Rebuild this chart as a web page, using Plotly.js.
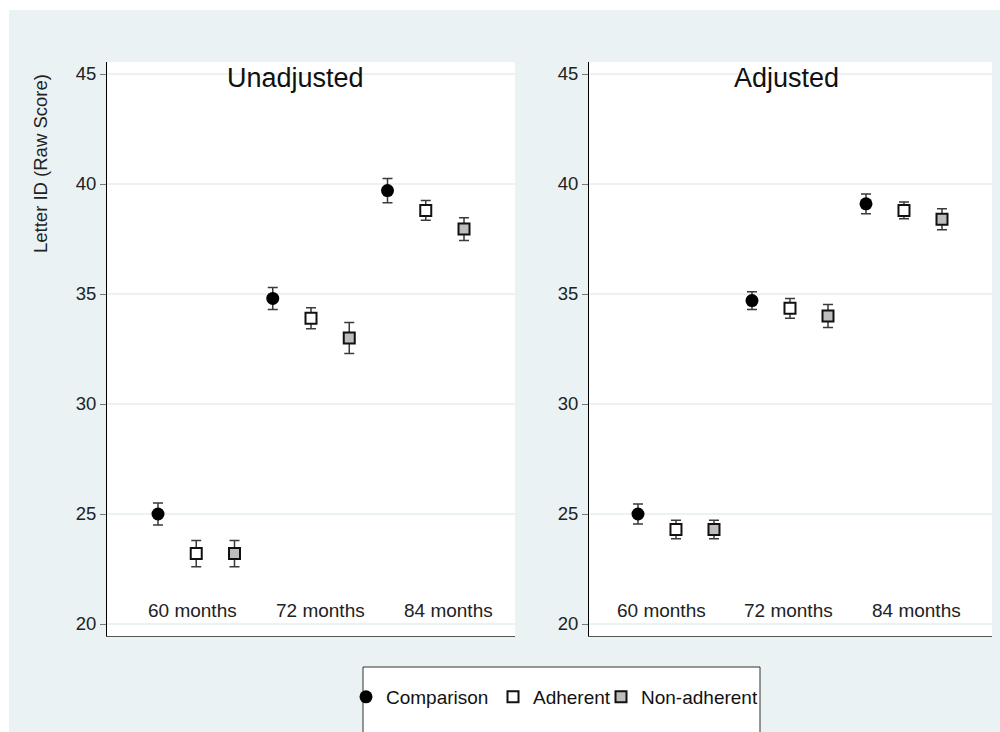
<!DOCTYPE html>
<html>
<head>
<meta charset="utf-8">
<script src="https://cdn.plot.ly/plotly-3.0.1.min.js"></script>
<style>
  html, body { margin: 0; padding: 0; background: #ffffff; width: 1000px; height: 732px; overflow: hidden; }
  #chart { position: absolute; left: 9px; top: 10px; width: 991px; height: 722px; }
</style>
</head>
<body>
<div id="chart"></div>
<script>
// ---- Data ----
var months = ['60 months', '72 months', '84 months'];
var seriesNames = ['Comparison', 'Adherent', 'Non-adherent'];
var panelTitles = ['Unadjusted', 'Adjusted'];
var yTickVals = [20, 25, 30, 35, 40, 45];
var yAxisTitle = 'Letter ID (Raw Score)';

// Unadjusted
var unadjComparison = [25.0, 34.8, 39.7];
var unadjComparisonErr = [0.5, 0.5, 0.55];
var unadjAdherent = [23.2, 33.9, 38.8];
var unadjAdherentErr = [0.6, 0.48, 0.45];
var unadjNonAdherent = [23.2, 33.0, 37.95];
var unadjNonAdherentErr = [0.6, 0.7, 0.52];

// Adjusted
var adjComparison = [25.0, 34.7, 39.1];
var adjComparisonErr = [0.45, 0.4, 0.45];
var adjAdherent = [24.3, 34.35, 38.8];
var adjAdherentErr = [0.42, 0.45, 0.38];
var adjNonAdherent = [24.3, 34.0, 38.4];
var adjNonAdherentErr = [0.42, 0.52, 0.48];

// ---- Styles ----
var FONT = 'Liberation Sans, Arial, Helvetica, sans-serif';
var BG = '#eaf2f3';
var styles = [
  { symbol: 'circle', size: 13, color: '#000000', line: { color: '#000000', width: 0 } },
  { symbol: 'square', size: 11, color: '#ffffff', line: { color: '#111111', width: 2 } },
  { symbol: 'square', size: 11, color: '#bdbdbd', line: { color: '#111111', width: 2 } }
];
var legendIds = ['legend', 'legend2', 'legend3'];

var panels = [
  { vals: [unadjComparison, unadjAdherent, unadjNonAdherent],
    errs: [unadjComparisonErr, unadjAdherentErr, unadjNonAdherentErr], xa: 'x', ya: 'y' },
  { vals: [adjComparison, adjAdherent, adjNonAdherent],
    errs: [adjComparisonErr, adjAdherentErr, adjNonAdherentErr], xa: 'x2', ya: 'y2' }
];

var traces = [];
panels.forEach(function (p, pi) {
  p.vals.forEach(function (v, si) {
    var xs = months.map(function (m, gi) { return gi * seriesNames.length + si + 1; });
    traces.push({
      type: 'scatter',
      mode: 'markers',
      name: seriesNames[si],
      x: xs,
      y: v,
      text: months,
      xaxis: p.xa,
      yaxis: p.ya,
      showlegend: pi === 0,
      legend: legendIds[si],
      legendgroup: seriesNames[si],
      marker: { symbol: styles[si].symbol, size: styles[si].size, color: styles[si].color, line: styles[si].line },
      error_y: { type: 'data', array: p.errs[si], visible: true, color: '#3a3a3a', thickness: 1.5, width: 5 },
      hovertemplate: '%{text}<br>%{y}<extra>' + seriesNames[si] + '</extra>'
    });
  });
});

var W = 991, H = 722;
function px(x) { return x / W; }
function py(y) { return (H - y) / H; }

var yAxisCommon = {
  range: [19.4545, 45.5455],
  tickvals: yTickVals,
  ticks: 'outside',
  ticklen: 6,
  tickwidth: 1,
  tickcolor: '#777777',
  showline: true,
  linecolor: '#000000',
  linewidth: 1,
  showgrid: true,
  gridcolor: BG,
  gridwidth: 1.5,
  zeroline: false,
  tickfont: { family: FONT, size: 18.5, color: '#222222' },
  domain: [py(626), py(52)],
  fixedrange: true
};
var xAxisCommon = {
  showticklabels: false,
  ticks: '',
  showgrid: false,
  zeroline: false,
  showline: true,
  linecolor: '#555555',
  linewidth: 1,
  fixedrange: true
};

var annotations = [];
annotations.push({ text: panelTitles[0], xref: 'paper', yref: 'paper', x: px(286), y: py(68),
  xanchor: 'center', yanchor: 'middle', showarrow: false, font: { family: FONT, size: 27, color: '#111111' } });
annotations.push({ text: panelTitles[1], xref: 'paper', yref: 'paper', x: px(777), y: py(68),
  xanchor: 'center', yanchor: 'middle', showarrow: false, font: { family: FONT, size: 27, color: '#111111' } });
annotations.push({ text: yAxisTitle, xref: 'paper', yref: 'paper', x: px(32), y: py(154), textangle: -90,
  xanchor: 'center', yanchor: 'middle', showarrow: false, font: { family: FONT, size: 18.5, color: '#222222' } });
var leftLabelX = [183, 311, 439];
var rightLabelX = [652, 779, 907];
months.forEach(function (m, i) {
  annotations.push({ text: m, xref: 'paper', yref: 'paper', x: px(leftLabelX[i]), y: py(600),
    xanchor: 'center', yanchor: 'middle', showarrow: false, font: { family: FONT, size: 19, color: '#222222' } });
  annotations.push({ text: m, xref: 'paper', yref: 'paper', x: px(rightLabelX[i]), y: py(600),
    xanchor: 'center', yanchor: 'middle', showarrow: false, font: { family: FONT, size: 19, color: '#222222' } });
});

function legendAt(xDiv) {
  return {
    orientation: 'h',
    x: px(xDiv), xanchor: 'left',
    y: py(687), yanchor: 'middle',
    bgcolor: 'rgba(0,0,0,0)',
    borderwidth: 0,
    font: { family: FONT, size: 19, color: '#111111' },
    itemclick: false, itemdoubleclick: false
  };
}

var layout = {
  width: W,
  height: H,
  margin: { l: 0, r: 0, t: 0, b: 0, pad: 0 },
  paper_bgcolor: BG,
  plot_bgcolor: '#ffffff',
  font: { family: FONT, color: '#222222' },
  showlegend: true,
  legend: legendAt(337),
  legend2: legendAt(484),
  legend3: legendAt(592),
  xaxis: Object.assign({}, xAxisCommon, { domain: [px(98), px(506)], range: [-0.333, 10.333], anchor: 'y' }),
  yaxis: Object.assign({}, yAxisCommon, { anchor: 'x' }),
  xaxis2: Object.assign({}, xAxisCommon, { domain: [px(580), px(983)], range: [-0.289, 10.316], anchor: 'y2' }),
  yaxis2: Object.assign({}, yAxisCommon, { anchor: 'x2' }),
  shapes: [
    { type: 'rect', xref: 'paper', yref: 'paper', x0: px(354), x1: px(751), y0: -0.1, y1: py(657),
      fillcolor: '#ffffff', line: { color: '#333333', width: 1 }, layer: 'below' }
  ],
  annotations: annotations
};

Plotly.newPlot('chart', traces, layout, { displayModeBar: false });
</script>
</body>
</html>
